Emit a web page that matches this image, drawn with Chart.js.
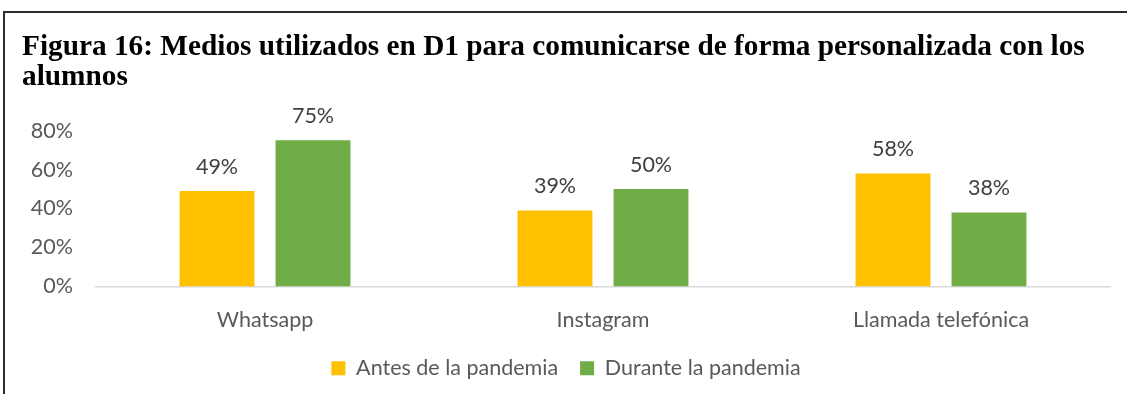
<!DOCTYPE html>
<html><head><meta charset="utf-8">
<script src="https://cdn.jsdelivr.net/npm/chart.js@4/dist/chart.umd.min.js"></script>
<style>
html,body{margin:0;padding:0;background:#fff;width:1127px;height:394px;overflow:hidden;}
#wrap{position:absolute;left:0;top:0;width:1127px;height:394px;}
#frame{position:absolute;left:3px;top:11px;width:1200px;height:500px;border:2px solid #2b2b2b;box-sizing:border-box;pointer-events:none;}
</style></head>
<body>
<div id="wrap"><canvas id="c" width="1127" height="394"></canvas></div>
<div id="frame"></div>
<script>
const titleLines = ["Figura 16: Medios utilizados en D1 para comunicarse de forma personalizada con los", "alumnos"];
const categories = ["Whatsapp", "Instagram", "Llamada telefónica"];
const seriesNames = ["Antes de la pandemia", "Durante la pandemia"];
const antes = [49, 39, 58];
const durante = [75, 50, 38];
const yTicks = [0, 20, 40, 60, 80];

const FONT = "Lato, 'Open Sans', sans-serif";
const FS = 21.5;

const valueLabels = {
  id: 'valueLabels',
  afterDatasetsDraw(chart) {
    const ctx = chart.ctx;
    ctx.save();
    ctx.font = FS + "px " + FONT;
    ctx.fillStyle = "#404040";
    ctx.textAlign = "center";
    ctx.textBaseline = "middle";
    chart.data.datasets.forEach((ds, i) => {
      chart.getDatasetMeta(i).data.forEach((bar, j) => {
        ctx.fillText(ds.data[j] + "%", bar.x, bar.y - 24);
      });
    });
    ctx.restore();
  }
};

new Chart(document.getElementById('c'), {
  type: 'bar',
  data: {
    labels: categories,
    datasets: [
      {label: seriesNames[0], data: antes, backgroundColor: '#FFC000', categoryPercentage: 0.568, barPercentage: 0.78},
      {label: seriesNames[1], data: durante, backgroundColor: '#70AD47', categoryPercentage: 0.568, barPercentage: 0.78}
    ]
  },
  options: {
    responsive: false,
    animation: false,
    layout: {padding: {left: 22, right: 17, top: 0, bottom: 5}},
    plugins: {
      title: {
        display: true, text: titleLines, align: 'start', color: '#000',
        font: {family: "'Liberation Serif', 'Times New Roman', serif", size: 29.3, weight: 'bold', lineHeight: 1.0},
        padding: {top: 33, bottom: 39}
      },
      legend: {
        position: 'bottom',
        labels: {color: '#595959', font: {family: FONT, size: FS}, boxWidth: 14, boxHeight: 14, padding: 22}
      },
      tooltip: {enabled: false}
    },
    scales: {
      x: {
        grid: {display: false, drawTicks: false},
        border: {display: true, color: '#d9d9d9', width: 1.5},
        ticks: {color: '#595959', font: {family: FONT, size: FS}, padding: 21},
        afterFit(s) { s.height = 49; }
      },
      y: {
        min: 0, max: 80,
        grid: {display: false, drawTicks: false},
        border: {display: false},
        afterBuildTicks(s) { s.ticks = yTicks.map(v => ({value: v})); },
        ticks: {color: '#595959', font: {family: FONT, size: FS}, padding: 23, callback: v => v + '%'},
        afterFit(s) { s.width = 74; }
      }
    }
  },
  plugins: [valueLabels]
});
</script>
</body></html>
